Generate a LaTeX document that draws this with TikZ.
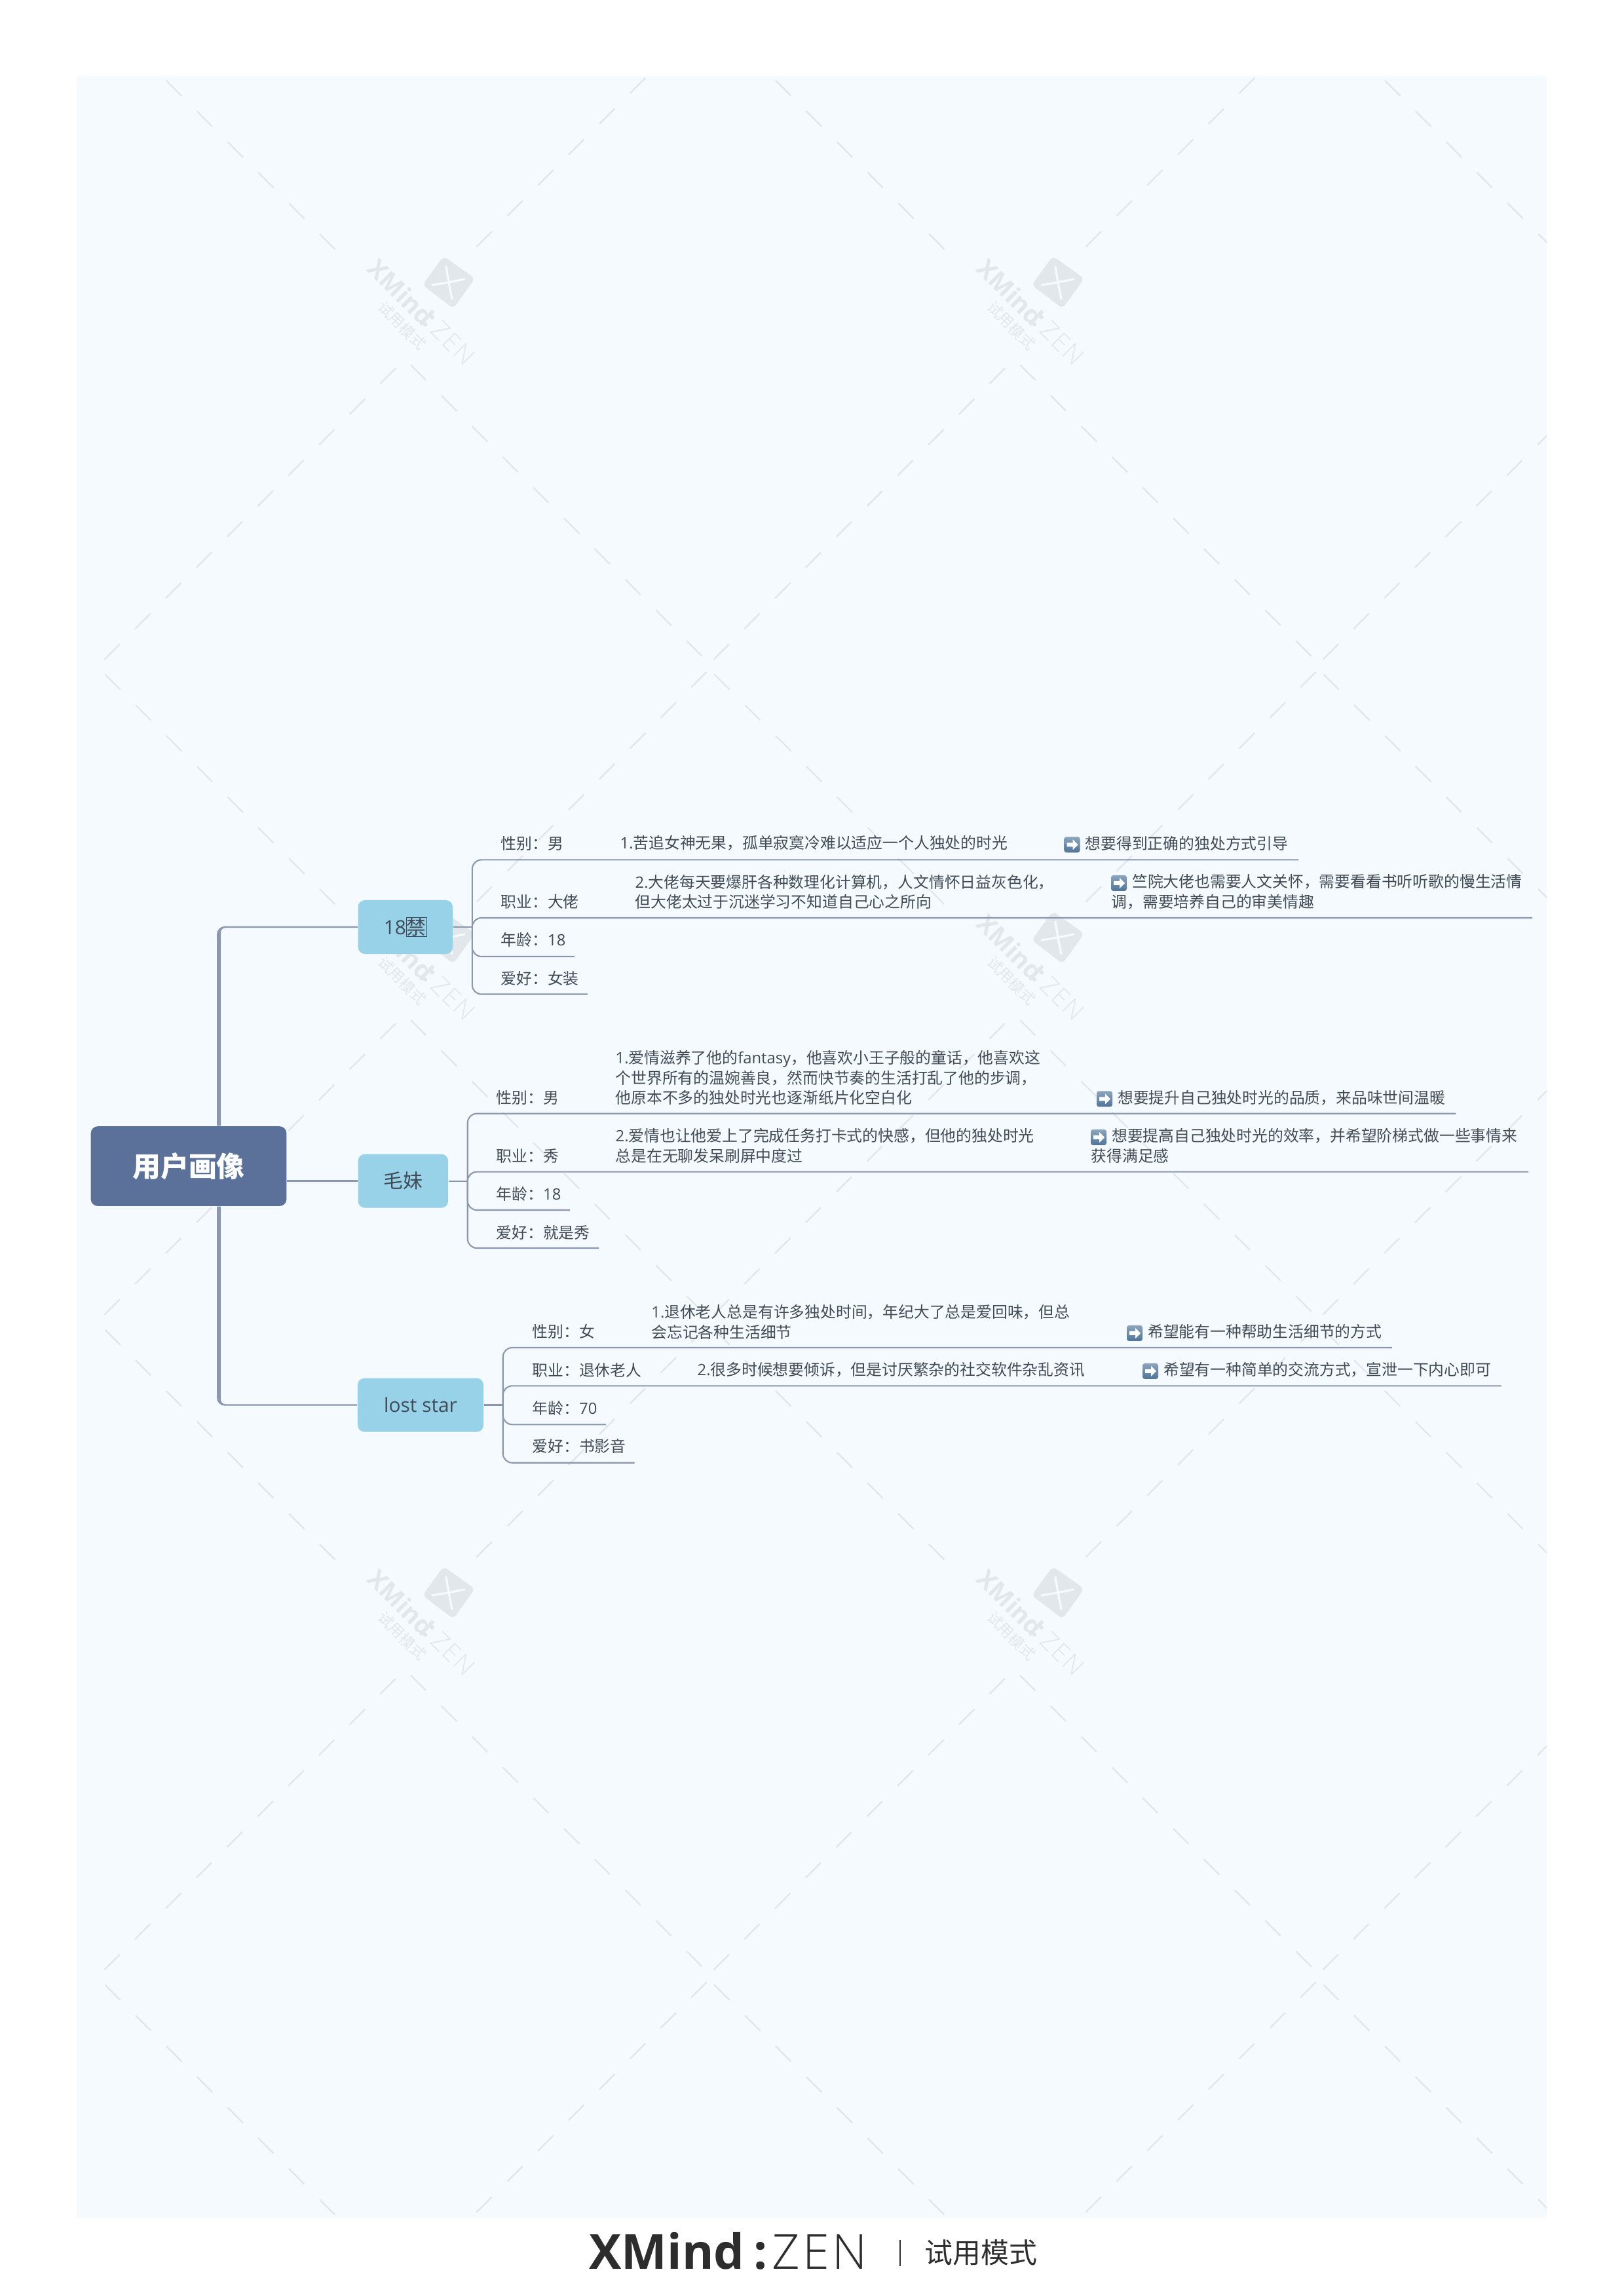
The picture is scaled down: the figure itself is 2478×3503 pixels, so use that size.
\documentclass[tikz,border=0pt]{standalone}
\usepackage{fontspec}
\setmainfont{Open Sans}
\newfontfamily\latinface{Open Sans}
\newfontfamily\thinface[LetterSpace=6]{Open Sans Light}
\newfontfamily\cjk{Noto Sans CJK SC}
\newcommand{\lat}[1]{{\latinface #1}}
\newcommand{\iconroom}{\hspace*{0.315cm}}
\definecolor{panelblue}{HTML}{F5FAFE}
\definecolor{wmgrey}{HTML}{E2E7EC}
\definecolor{rootblue}{HTML}{5B7199}
\definecolor{topicblue}{HTML}{97D2E8}
\definecolor{linkgrey}{HTML}{8A97AE}
\definecolor{textgrey}{HTML}{414B55}
\definecolor{footgrey}{HTML}{2D2D2D}
\definecolor{iconblue}{HTML}{4F7499}
\tikzset{
    rootnode/.style={fill=rootblue, text=white, rounded corners=3pt, inner sep=0pt,
        minimum width=2.985cm, minimum height=1.216cm,
        font=\cjk\bfseries\fontsize{12.2}{14}\selectfont},
    topicnode/.style={fill=topicblue, text=textgrey, rounded corners=3pt, inner sep=0pt,
        minimum height=0.82cm, font=\cjk\fontsize{8.5}{10}\selectfont},
    leafnode/.style={anchor=west, inner sep=0pt, align=left, text=textgrey,
        font=\cjk\fontsize{6.77}{8.68}\selectfont},
    linkline/.style={draw=linkgrey, line width=0.6pt},
    leafline/.style={linkline, rounded corners=4pt},
    branchthin/.style={draw=linkgrey, line width=0.68pt},
    branchfill/.style={fill=linkgrey},
    wmdash/.style={draw=wmgrey, line width=0.7pt},
    wmtext/.style={text=wmgrey, rotate=-45, inner sep=0pt},
    footnode/.style={anchor=base west, inner sep=0pt, text=footgrey},
    arrowicon/.pic={
        \shade[top color=iconblue!65, bottom color=iconblue, rounded corners=1pt]
            (-12,-12) rectangle (12,12);
        \fill[white] (-8,-3) -- (1,-3) -- (1,-8) -- (9,0) -- (1,8) -- (1,3) -- (-8,3) -- cycle;
    }
}

\begin{document}
\begin{tikzpicture}[x=0.01cm,y=-0.01cm]
    \useasboundingbox (0,0) rectangle (2478,3503);
    \fill[panelblue] (117,116) rectangle (2361,3385);
    \begin{scope}
        \clip (117,116) rectangle (2361,3385);
        \foreach \c in {0,1,2} {
            \foreach \r in {0,1,2,3} {
                \begin{scope}[shift={(930*\c,1000*\r)}]
                    \foreach \k in {0,...,9} {
                        \draw[wmdash] (627+46.8*\k,557+46.8*\k) -- ++(23.4,23.4);
                        \draw[wmdash] (604-46.8*\k,562+46.8*\k) -- ++(-23.4,23.4);
                    }
                    \foreach \k in {0,...,7} {
                        \draw[wmdash] (488-46.8*\k,357-46.8*\k) -- ++(23.4,23.4);
                        \draw[wmdash] (751+46.8*\k,353-46.8*\k) -- ++(-23.4,23.4);
                    }
                \end{scope}
            }
        }
        \foreach \c in {0,1} {
            \foreach \r in {0,1,2} {
                \begin{scope}[shift={(930*\c,1000*\r)}]
                    \fill[wmgrey, rounded corners=2pt] (677,391) -- (725,425) -- (692,471) -- (645,435) -- cycle;
                    \draw[panelblue, line width=0.9pt, line cap=round] (681,407) -- (685,431) -- (690,456);
                    \draw[panelblue, line width=0.9pt, line cap=round] (660,435) -- (685,431) -- (709,426);
                    \node[wmtext, font=\latinface\bfseries\fontsize{10.9}{12}\selectfont] (wmx\c\r) at (612,446) {XMind};
                    \node[wmtext, font=\latinface\bfseries\fontsize{10.9}{12}\selectfont] (wmd\c\r) at (655,490) {:};
                    \node[wmtext, font=\thinface\fontsize{10.9}{12}\selectfont] (wmz\c\r) at (692,524) {ZEN};
                    \node[wmtext, font=\cjk\fontsize{6.5}{8}\selectfont] (wmc\c\r) at (614,497) {试用模式};
                \end{scope}
            }
        }
    \end{scope}

    \node[rootnode] (root) at (288,1780) {用户画像};
    \node[topicnode, minimum width=1.445cm] (t18) at (618.8,1415) {\lat{18}{\setlength{\fboxsep}{0pt}\setlength{\fboxrule}{.25pt}\fbox{禁}}};
    \node[topicnode, minimum width=1.375cm] (tmao) at (615.3,1802.6) {毛妹};
    \node[topicnode, minimum width=1.92cm] (tstar) at (642,2144.5) {\lat{lost star}};

    \coordinate (trunkL) at (331,0);
    \coordinate (trunkR) at (337,0);
    \foreach \tnode/\rside/\sgn in {t18/north/1, tstar/south/-1} {
        \path (trunkL |- \tnode.west) ++(0,-1.2*\sgn) coordinate (oc);
        \path (trunkR |- \tnode.west) ++(0,1.2*\sgn) coordinate (ic);
        \path (\tnode.west) ++(0,-1.2*\sgn) coordinate (oe);
        \path (\tnode.west) ++(0,1.2*\sgn) coordinate (ie);
        \fill[branchfill] (root.\rside -| trunkL) [rounded corners=3.5pt] -- (oc) [sharp corners] -- (oe) -- (ie) [rounded corners=2pt] -- (ic) [sharp corners] -- (root.\rside -| trunkR) -- cycle;
    }
    \draw[branchthin] (root.east |- tmao.west) -- (tmao.west);

    \node[leafnode] (sex18) at (764,1287) {性别：男};
    \node[leafnode] (job18) at (764,1376.6) {职业：大佬};
    \node[leafnode] (age18) at (764,1434.7) {年龄：\lat{18}};
    \node[leafnode] (fav18) at (764,1493.7) {爱好：女装};
    \node[leafnode] (why18a) at (946,1287) {\lat{1.}苦追女神无果，孤单寂寞冷难以适应一个人独处的时光};
    \node[leafnode] (why18b) at (969,1361.3) {\lat{2.}大佬每天要爆肝各种数理化计算机，人文情怀日益灰色化，\\但大佬太过于沉迷学习不知道自己心之所向};
    \node[leafnode] (want18a) at (1624.5,1287) {\iconroom 想要得到正确的独处方式引导};
    \node[leafnode] (want18b) at (1696,1361.3) {\iconroom 竺院大佬也需要人文关怀，需要看看书听听歌的慢生活情\\调，需要培养自己的审美情趣};

    \node[leafnode] (sexmao) at (757,1675.4) {性别：男};
    \node[leafnode] (jobmao) at (757,1764) {职业：秀};
    \node[leafnode] (agemao) at (757,1822.4) {年龄：\lat{18}};
    \node[leafnode] (favmao) at (757,1881) {爱好：就是秀};
    \node[leafnode] (whymaoa) at (939,1645) {\lat{1.}爱情滋养了他的\lat{fantasy}，他喜欢小王子般的童话，他喜欢这\\个世界所有的温婉善良，然而快节奏的生活打乱了他的步调，\\他原本不多的独处时光也逐渐纸片化空白化};
    \node[leafnode] (whymaob) at (939,1749) {\lat{2.}爱情也让他爱上了完成任务打卡式的快感，但他的独处时光\\总是在无聊发呆刷屏中度过};
    \node[leafnode] (wantmaoa) at (1674,1675.4) {\iconroom 想要提升自己独处时光的品质，来品味世间温暖};
    \node[leafnode] (wantmaob) at (1665,1749) {\iconroom 想要提高自己独处时光的效率，并希望阶梯式做一些事情来\\获得满足感};

    \node[leafnode] (sexstar) at (812,2032.7) {性别：女};
    \node[leafnode] (jobstar) at (812,2091) {职业：退休老人};
    \node[leafnode] (agestar) at (812,2149) {年龄：\lat{70}};
    \node[leafnode] (favstar) at (812,2207.7) {爱好：书影音};
    \node[leafnode] (whystara) at (993.7,2017.7) {\lat{1.}退休老人总是有许多独处时间，年纪大了总是爱回味，但总\\会忘记各种生活细节};
    \node[leafnode] (whystarb) at (1064,2091) {\lat{2.}很多时候想要倾诉，但是讨厌繁杂的社交软件杂乱资讯};
    \node[leafnode] (wantstara) at (1720,2032.7) {\iconroom 希望能有一种帮助生活细节的方式};
    \node[leafnode] (wantstarb) at (1744,2091) {\iconroom 希望有一种简单的交流方式，宣泄一下内心即可};

    \foreach \w in {want18a,want18b,wantmaoa,wantmaob,wantstara,wantstarb}
        \pic at ([shift={(12,14)}]\w.north west) {arrowicon};

    \coordinate (u18a) at (1982,1312.4);
    \coordinate (u18b) at (2339,1401);
    \coordinate (u18c) at (877,1460);
    \coordinate (u18d) at (897,1517.5);
    \coordinate (umaoa) at (2222,1699.7);
    \coordinate (umaob) at (2333,1788.6);
    \coordinate (umaoc) at (870,1847);
    \coordinate (umaod) at (914,1905);
    \coordinate (ustara) at (2125,2057);
    \coordinate (ustarb) at (2291.6,2115.3);
    \coordinate (ustarc) at (925,2174.3);
    \coordinate (ustard) at (968.5,2232.7);
    \foreach \tnode/\gap/\tname in {t18/29/18, tmao/29/mao, tstar/29/star} {
        \path (\tnode.east) ++(\gap,0) coordinate (spine\tname);
        \draw[linkline] (\tnode.east) -- (spine\tname);
        \foreach \u in {a,b,c,d} {
            \draw[leafline] (spine\tname) |- (u\tname\u);
        }
    }

    \node[footnode, font=\latinface\bfseries\fontsize{21}{24}\selectfont] (footx) at (899,3463) {XMind};
    \node[footnode, font=\latinface\bfseries\fontsize{21}{24}\selectfont] (footd) at (1150,3463) {:};
    \node[footnode, font=\thinface\fontsize{21}{24}\selectfont] (footz) at (1178,3463) {ZEN};
    \draw[footgrey, line width=0.8pt] (1374,3419) -- (1374,3459);
    \node[anchor=west, inner sep=0pt, text=footgrey, font=\cjk\fontsize{12.2}{14}\selectfont] (footc) at (1411,3438) {试用模式};
\end{tikzpicture}
\end{document}
